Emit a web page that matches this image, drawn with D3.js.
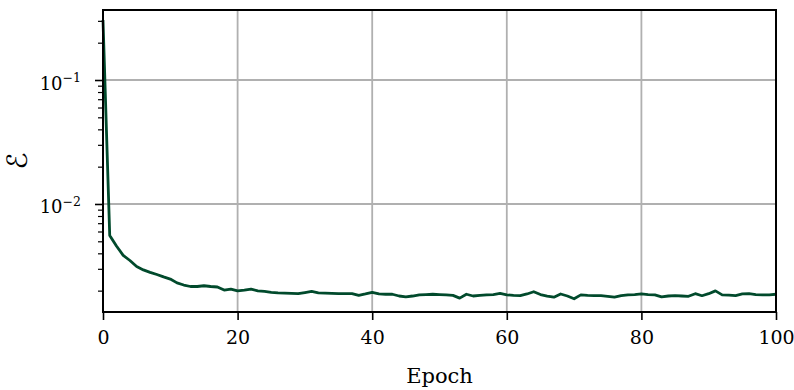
<!DOCTYPE html>
<html>
<head>
<meta charset="utf-8">
<script src="https://cdn.jsdelivr.net/npm/d3@7"></script>
<style>
	body { margin: 0; background: #fff; }
	text { font-family: "DejaVu Serif", serif; fill: #000; }
</style>
</head>
<body>
<svg class="chart"></svg>
<script>
// loss per epoch
var epochs = d3.range(0, 101);
var loss = [
	0.305, 5.57e-3, 4.58e-3, 3.85e-3, 3.50e-3, 3.13e-3, 2.94e-3, 2.81e-3, 2.70e-3, 2.58e-3,
	2.48e-3, 2.31e-3, 2.22e-3, 2.16e-3, 2.16e-3, 2.19e-3, 2.16e-3, 2.14e-3, 2.02e-3, 2.06e-3,
	1.99e-3, 2.02e-3, 2.06e-3, 1.99e-3, 1.97e-3, 1.94e-3, 1.92e-3, 1.91e-3, 1.90e-3, 1.89e-3,
	1.93e-3, 1.97e-3, 1.92e-3, 1.91e-3, 1.90e-3, 1.89e-3, 1.89e-3, 1.89e-3, 1.83e-3, 1.88e-3,
	1.94e-3, 1.88e-3, 1.87e-3, 1.87e-3, 1.81e-3, 1.78e-3, 1.81e-3, 1.85e-3, 1.86e-3, 1.87e-3,
	1.86e-3, 1.85e-3, 1.83e-3, 1.74e-3, 1.87e-3, 1.81e-3, 1.83e-3, 1.85e-3, 1.86e-3, 1.90e-3,
	1.85e-3, 1.83e-3, 1.82e-3, 1.88e-3, 1.96e-3, 1.86e-3, 1.81e-3, 1.77e-3, 1.88e-3, 1.81e-3,
	1.72e-3, 1.85e-3, 1.83e-3, 1.82e-3, 1.82e-3, 1.80e-3, 1.77e-3, 1.82e-3, 1.85e-3, 1.86e-3,
	1.88e-3, 1.86e-3, 1.85e-3, 1.78e-3, 1.81e-3, 1.82e-3, 1.81e-3, 1.80e-3, 1.89e-3, 1.82e-3,
	1.89e-3, 1.99e-3, 1.85e-3, 1.84e-3, 1.82e-3, 1.88e-3, 1.89e-3, 1.86e-3, 1.85e-3, 1.85e-3,
	1.87e-3
];
var xTicks = [0, 20, 40, 60, 80, 100];
var yMajor = [1e-2, 1e-1];
var yMinor = [2e-3, 3e-3, 4e-3, 5e-3, 6e-3, 7e-3, 8e-3, 9e-3,
	2e-2, 3e-2, 4e-2, 5e-2, 6e-2, 7e-2, 8e-2, 9e-2, 2e-1, 3e-1];
var yTickExp = ["\u22122", "\u22121"];

var margin = {top: 10, right: 18, bottom: 78, left: 103},
	width = 794 - margin.left - margin.right,
	height = 390 - margin.top - margin.bottom;

var svg = d3.select(".chart")
	.attr("width", width + margin.left + margin.right)
	.attr("height", height + margin.top + margin.bottom)
	.append("g")
		.attr("transform", "translate(" + margin.left + "," + margin.top + ")");

var x = d3.scaleLinear().domain([0, 100]).range([0, width]);
var y = d3.scaleLog().domain([1.345e-3, 0.367]).range([height, 0]);

// grid
svg.append("g").selectAll("line")
	.data(xTicks)
	.enter().append("line")
		.attr("x1", function(d) { return x(d); })
		.attr("x2", function(d) { return x(d); })
		.attr("y1", 0)
		.attr("y2", height)
		.style("stroke", "#b0b0b0")
		.style("stroke-width", 1.8);

svg.append("g").selectAll("line")
	.data(yMajor)
	.enter().append("line")
		.attr("x1", 0)
		.attr("x2", width)
		.attr("y1", function(d) { return y(d); })
		.attr("y2", function(d) { return y(d); })
		.style("stroke", "#b0b0b0")
		.style("stroke-width", 1.8);

// the loss curve
var line = d3.line()
	.x(function(d, i) { return x(epochs[i]); })
	.y(function(d) { return y(d); });

svg.append("path")
	.datum(loss)
	.attr("d", line)
	.style("fill", "none")
	.style("stroke", "#014a2c")
	.style("stroke-width", 2.8)
	.style("stroke-linejoin", "round");

// x axis
var xAxis = svg.append("g")
	.attr("transform", "translate(0," + height + ")")
	.call(d3.axisBottom(x).tickValues(xTicks).tickSize(8).tickPadding(11).tickFormat(d3.format("d")));
xAxis.select(".domain").remove();
xAxis.selectAll("line").style("stroke", "#000").style("stroke-width", 1.6);
xAxis.selectAll("text").style("font-family", "DejaVu Serif").style("font-size", "19px");

// y axis: minor ticks, then major ticks with 10^n labels
var yMinorAxis = svg.append("g")
	.call(d3.axisLeft(y).tickValues(yMinor).tickSize(5).tickFormat(""));
yMinorAxis.select(".domain").remove();
yMinorAxis.selectAll("line").style("stroke", "#000").style("stroke-width", 1.2);

var yAxis = svg.append("g")
	.call(d3.axisLeft(y).tickValues(yMajor).tickSize(8).tickFormat(""));
yAxis.select(".domain").remove();
yAxis.selectAll("line").style("stroke", "#000").style("stroke-width", 1.6);

var yLabels = yAxis.selectAll(".tick").append("text")
	.attr("x", -22)
	.attr("dy", "0.5em")
	.style("text-anchor", "end")
	.style("font-family", "DejaVu Serif")
	.style("font-size", "18px")
	.style("fill", "#000");
yLabels.append("tspan").text("10");
yLabels.append("tspan")
	.attr("dy", "-0.6em")
	.style("font-size", "12.5px")
	.text(function(d, i) { return yTickExp[i]; });

// frame
svg.append("rect")
	.attr("width", width)
	.attr("height", height)
	.style("fill", "none")
	.style("stroke", "#000")
	.style("stroke-width", 2);

// axis titles
svg.append("text")
	.attr("x", width / 2)
	.attr("y", height + 71)
	.style("text-anchor", "middle")
	.style("font-size", "21px")
	.text("Epoch");

svg.append("text")
	.attr("transform", "translate(" + (-76) + "," + (height / 2) + ") rotate(-90)")
	.style("text-anchor", "middle")
	.style("font-family", "DejaVu Sans")
	.style("font-size", "28px")
	.text("\u2130");
</script>
</body>
</html>
